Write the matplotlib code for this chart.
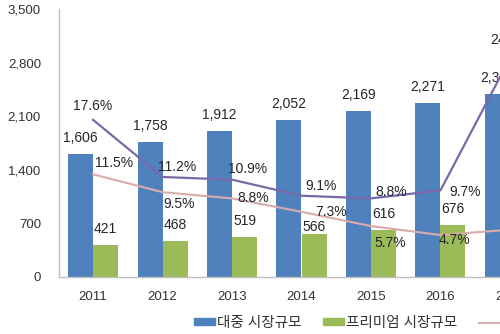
import numpy as np
import matplotlib.pyplot as plt
from matplotlib.patches import Patch
from matplotlib.lines import Line2D

plt.rcParams['font.family'] = ['Liberation Sans', 'Noto Sans CJK KR']

years = ["2011", "2012", "2013", "2014", "2015", "2016", "2017"]
mass_market = [1606, 1758, 1912, 2052, 2169, 2271, 2391]
premium_market = [421, 468, 519, 566, 616, 676, 842]
mass_growth = [11.5, 9.5, 8.8, 7.3, 5.7, 4.7, 5.3]
premium_growth = [17.6, 11.2, 10.9, 9.1, 8.8, 9.7, 24.5]
legend_labels = ["대중 시장규모", "프리미엄 시장규모", "대중 시장 성장률", "프리미엄 시장 성장률"]

# label offsets (pixels) for the annotations
mass_offsets = [(21, 11), (17, -12), (21, 0), (30, 0), (19, -17), (14, -5), (20, 0)]
premium_offsets = [(0, 14), (15, 10), (16, 11), (20, 10), (20, 6), (25, -2), (0, 18)]
premium_bar_offsets = [16, 16, 16, 7, 16, 16, 16]

blue = "#4F81BD"
green = "#9BBB59"
purple = "#7B68A8"
pink = "#D9ABAB"
txt = "#262626"

fig = plt.figure(figsize=(5, 3.34), dpi=100)
ax = fig.add_axes([0.118, 0.1707, 0.97, 0.802])
x = np.arange(len(years))
w = 0.36

ax.bar(x - w / 2, mass_market, w, color=blue)
ax.bar(x + w / 2, premium_market, w, color=green)
for i in range(len(years)):
    ax.annotate(f"{mass_market[i]:,}", (x[i] - w / 2, mass_market[i]), xytext=(0, 16),
                textcoords="offset pixels", ha="center", va="center", fontsize=10, color=txt)
    ax.annotate(f"{premium_market[i]:,}", (x[i] + w / 2, premium_market[i]),
                xytext=(0, premium_bar_offsets[i]),
                textcoords="offset pixels", ha="center", va="center", fontsize=10, color=txt)

ax.set_xlim(-0.49, 6.49)
ax.set_ylim(0, 3500)
ax.set_yticks(np.arange(0, 3501, 700))
ax.set_yticklabels([f"{v:,}" for v in range(0, 3501, 700)])
ax.set_xticks(x)
ax.set_xticklabels(years)
ax.tick_params(axis="y", length=0, pad=13, labelsize=9.5, labelcolor="#333333")
ax.tick_params(axis="x", length=0, pad=10, labelsize=9.5, labelcolor="#333333")
for s in ["top", "right"]:
    ax.spines[s].set_visible(False)
for s in ["left", "bottom"]:
    ax.spines[s].set_color("#BFBFBF")
    ax.spines[s].set_linewidth(1)

ax2 = ax.twinx()
ax2.set_ylim(0, 30)
ax2.axis("off")
ax2.plot(x, mass_growth, color=pink, lw=1.5)
ax2.plot(x, premium_growth, color=purple, lw=1.6)
for i in range(len(years)):
    ax2.annotate(f"{mass_growth[i]}%", (x[i], mass_growth[i]), xytext=mass_offsets[i],
                 textcoords="offset pixels", ha="center", va="center", fontsize=10, color=txt)
    ax2.annotate(f"{premium_growth[i]}%", (x[i], premium_growth[i]), xytext=premium_offsets[i],
                 textcoords="offset pixels", ha="center", va="center", fontsize=10, color=txt)

handles = [Patch(color=blue), Patch(color=green),
           Line2D([], [], color=pink, lw=1.5), Line2D([], [], color=purple, lw=1.6)]
fig.legend(handles, legend_labels, loc="center left", bbox_to_anchor=(0.362, 0.033),
           ncol=4, frameon=False, handlelength=1.45, handleheight=0.4, handletextpad=0.15,
           columnspacing=1.45, fontsize=10.5, labelcolor="#333333")

fig.savefig("out.png", dpi=100)
